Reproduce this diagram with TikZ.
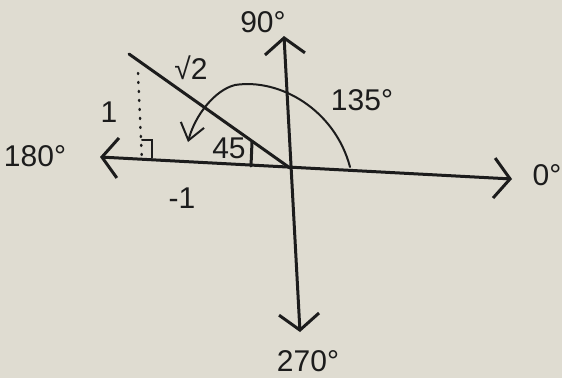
\documentclass[tikz,border=0pt]{standalone}
\usepackage{fontspec}
\setmainfont{Liberation Sans}
\usetikzlibrary{arrows.meta}
\definecolor{paper}{HTML}{DFDCD1}
\definecolor{ink}{HTML}{1C1C1C}
\tikzset{axis/.style={draw=ink,line width=3pt,line cap=round,{Straight Barb[length=16pt,width=40pt]}-{Straight Barb[length=16pt,width=40pt]}},pen/.style={draw=ink,line width=3pt,line cap=round},thinpen/.style={draw=ink,line width=2pt,line cap=round},lab/.style={text=ink,inner sep=0pt,font=\fontsize{30}{32}\selectfont}}

\begin{document}
\begin{tikzpicture}[x=1pt,y=-1pt]
\fill[paper] (0,0) rectangle (562,378);
\useasboundingbox (0,0) rectangle (562,378);
% axes
\coordinate (O) at (290,168);
\coordinate (L) at (100,157);
\coordinate (R) at (512,179);
\coordinate (T) at (284,36);
\coordinate (B) at (300,332);
\draw[axis] (L)--(R);
\draw[axis] (T)--(B);
\node[lab] (d90) at (263,22) {90°};
\node[lab] (d180) at (35,156) {180°};
\node[lab] (d0) at (547,175) {0°};
\node[lab] (d270) at (308,361) {270°};
% triangle
\coordinate (P) at (129,54);
\draw[pen] (P)--(O);
\coordinate (F) at (138,73);
\coordinate (G) at (142,162);
\draw[thinpen,line width=2.5pt,dash pattern=on 1pt off 8pt] (F)--(G);
\coordinate (r1) at (142,140);
\coordinate (r2) at (152,140);
\coordinate (r3) at (152,158);
\draw[thinpen] (r1)--(r2)--(r3);
\coordinate (m1) at (252,142);
\coordinate (m2) at (251,166);
\draw[pen] (m1)--(m2);
\node[lab] (hyp) at (191,68) {√2};
\node[lab] (one) at (109,112) {1};
\node[lab] (ang) at (229,148) {45};
\node[lab] (neg) at (182,198) {-1};
% rotation arc
\coordinate (s) at (350,167);
\coordinate (e) at (188,142);
\draw[thinpen,-{Straight Barb[length=16pt,width=24pt]}] (s) .. controls (335,110) and (280,78) .. (235,85) .. controls (215,90) and (195,115) .. (e);
\node[lab] (d135) at (362,100) {135°};
\end{tikzpicture}
\end{document}
